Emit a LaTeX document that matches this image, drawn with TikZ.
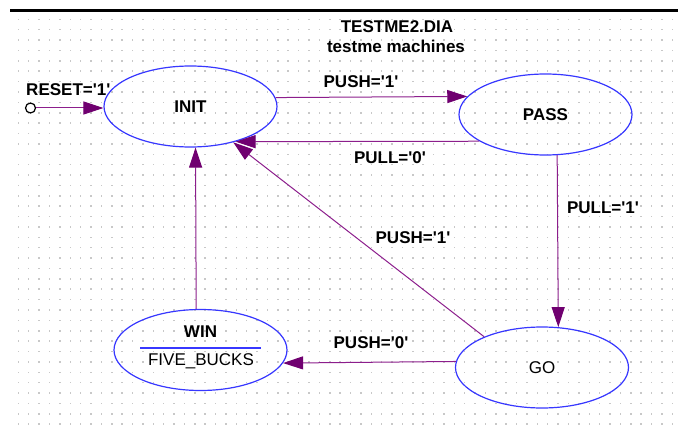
\documentclass[tikz,border=0pt]{standalone}
\usepackage{fontspec}
\setmainfont{Liberation Sans}
\usetikzlibrary{shapes.geometric,arrows.meta}
\definecolor{stateblue}{RGB}{55,55,255}
\definecolor{transpurple}{RGB}{140,30,140}
\definecolor{tippurple}{RGB}{112,0,112}
\definecolor{griddot}{RGB}{200,200,200}
\newcommand{\tq}{\textquotesingle}

\begin{document}
\begin{tikzpicture}[x=1pt,y=-1pt,
	diafont/.style={font=\fontsize{17}{20}\selectfont\bfseries},
	plainfont/.style={font=\fontsize{17}{20}\selectfont},
	state/.style={ellipse,draw=stateblue,line width=1.2pt,minimum width=173pt,minimum height=81pt,inner sep=0pt,diafont},
	trans/.style={draw=transpurple,line width=1pt,-{Triangle[length=20pt,width=13pt,color=tippurple]}},
	lbl/.style={inner sep=0pt,diafont}]
	\useasboundingbox (0,0) rectangle (678,436);
	% dotted grid
	\foreach \i in {0,...,63}
		\foreach \j in {0,...,39}
			\fill[griddot] (17.6+\i*10.38,18.6+\j*10.38) rectangle +(1.5,1.5);
	\draw[line width=3pt] (10,11) -- (678,11);
	\node[lbl] (title) at (397,27) {TESTME2.DIA};
	\node[lbl] (subtitle) at (396,46) {testme machines};
	% states
	\node[state] (init) at (190.5,106.5) {INIT};
	\node[state] (pass) at (545.5,114.5) {PASS};
	\node[state,plainfont] (go) at (542,367.5) {GO};
	\node[state] (win) at (200.5,350) {};
	\node[lbl] (winname) at (200.5,332) {WIN};
	\node[inner sep=0pt,plainfont,anchor=base] (winout) at (201,365) {FIVE\_BUCKS};
	\draw[stateblue,line width=1.2pt] (win.center) ++(-60.5,-2) -- ++(121,0);
	\node[circle,draw=black,line width=1.2pt,minimum size=10pt,inner sep=0pt] (reset) at (30.5,108) {};
	% transitions
	\draw[trans] (reset.east) -- (init.west |- reset.east);
	\node[lbl] (lreset) at (68.3,90) {RESET=\tq1\tq};
	\draw[trans] (init.6.45) -- (pass.167.35);
	\node[lbl] (lpush1) at (361,82) {PUSH=\tq1\tq};
	\draw[trans] (pass.202.06) -- (init.322.7);
	\node[lbl] (lpull0) at (390,158) {PULL=\tq0\tq};
	\draw[trans] (pass.286.7) -- (go.68.7);
	\node[lbl] (lpull1) at (603,208) {PULL=\tq1\tq};
	\draw[trans] (go.152.7) -- (init.320);
	\node[lbl] (lpush1b) at (413,238) {PUSH=\tq1\tq};
	\draw[trans] (go.176.3) -- (win.351.7);
	\node[lbl] (lpush0) at (371,343) {PUSH=\tq0\tq};
	\draw[trans] (win.96.3) -- (init.277.75);
\end{tikzpicture}
\end{document}
